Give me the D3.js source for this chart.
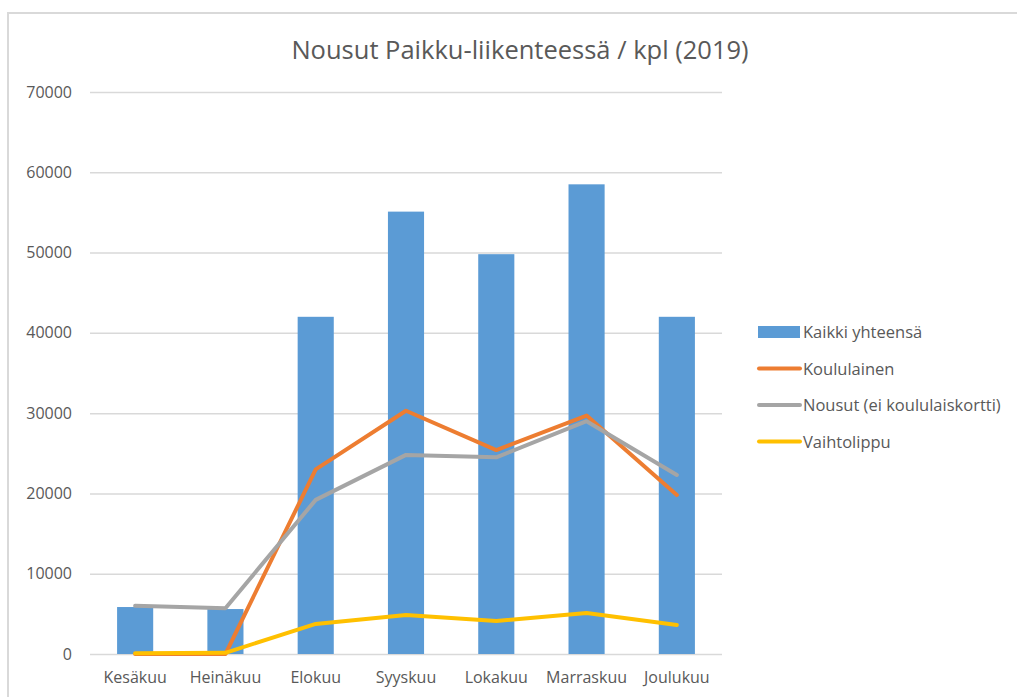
<!DOCTYPE html>
<html>
<head>
<meta charset="utf-8">
<script src="https://cdn.jsdelivr.net/npm/d3@7"></script>
<style>
  body { margin: 0; background: #fff; }
  svg { display: block; font-family: "Open Sans", "Noto Sans", sans-serif; }
</style>
</head>
<body>
<svg id="chart" width="1017" height="697"></svg>
<script>
// data
var months = ["Kesäkuu", "Heinäkuu", "Elokuu", "Syyskuu", "Lokakuu", "Marraskuu", "Joulukuu"];
var kaikki = [5850, 5600, 42000, 55100, 49800, 58500, 42000];
var koululainen = [0, 0, 23000, 30300, 25400, 29700, 19800];
var nousut = [6000, 5700, 19200, 24800, 24500, 29000, 22300];
var vaihtolippu = [100, 150, 3750, 4850, 4100, 5100, 3600];
var yTicks = [0, 10000, 20000, 30000, 40000, 50000, 60000, 70000];

var lineSeries = [
  { name: "Koululainen", values: koululainen, color: "#ed7d31" },
  { name: "Nousut (ei koululaiskortti)", values: nousut, color: "#a5a5a5" },
  { name: "Vaihtolippu", values: vaihtolippu, color: "#ffc000" }
];

var svg = d3.select("#chart");
var plotLeft = 90, plotRight = 722, plotTop = 92, plotBottom = 654;

// frame of the chart box
svg.append("rect")
   .attr("x", 8).attr("y", 13)
   .attr("width", 1020).attr("height", 700)
   .attr("fill", "#fff")
   .attr("stroke", "#d9d9d9")
   .attr("stroke-width", 2);

var x = d3.scaleBand().domain(months).range([plotLeft, plotRight]).paddingInner(0.6).paddingOuter(0.3);
var y = d3.scaleLinear().domain([0, 70000]).range([plotBottom, plotTop]);

// title
svg.append("text")
   .attr("x", 520).attr("y", 59)
   .attr("text-anchor", "middle")
   .attr("font-size", 25.5)
   .attr("fill", "#595959")
   .text("Nousut Paikku-liikenteessä / kpl (2019)");

// gridlines + y labels
var yAxis = svg.append("g")
   .attr("transform", "translate(" + plotLeft + ",0)")
   .call(d3.axisLeft(y).tickValues(yTicks).tickSize(-(plotRight - plotLeft)).tickFormat(d3.format("d")).tickPadding(18));
yAxis.select(".domain").remove();
yAxis.selectAll(".tick line").attr("stroke", "#d9d9d9").attr("stroke-width", 1.5);
yAxis.selectAll(".tick text").attr("fill", "#595959").attr("font-size", 16)
     .attr("font-family", "\"Open Sans\", sans-serif");

// x labels
var xAxis = svg.append("g")
   .attr("transform", "translate(0," + plotBottom + ")")
   .call(d3.axisBottom(x).tickSize(0).tickPadding(18));
xAxis.select(".domain").remove();
xAxis.selectAll(".tick text").attr("fill", "#595959").attr("font-size", 16)
     .attr("font-family", "\"Open Sans\", sans-serif");

// bars
svg.selectAll(".bar")
   .data(kaikki)
   .enter()
   .append("rect")
   .attr("class", "bar")
   .attr("x", function(d, i) { return x(months[i]); })
   .attr("y", function(d) { return y(d); })
   .attr("width", x.bandwidth())
   .attr("height", function(d) { return plotBottom - y(d); })
   .attr("fill", "#5b9bd5");

// lines
var line = d3.line()
   .x(function(d, i) { return x(months[i]) + x.bandwidth() / 2; })
   .y(function(d) { return y(d); });

svg.selectAll(".series")
   .data(lineSeries)
   .enter()
   .append("path")
   .attr("class", "series")
   .attr("d", function(s) { return line(s.values); })
   .attr("fill", "none")
   .attr("stroke", function(s) { return s.color; })
   .attr("stroke-width", 4)
   .attr("stroke-linejoin", "round")
   .attr("stroke-linecap", "round");

// legend
var legend = svg.append("g").attr("transform", "translate(758,332)");
legend.append("rect")
   .attr("x", 0).attr("y", -6)
   .attr("width", 42).attr("height", 12)
   .attr("fill", "#5b9bd5");
legend.append("text")
   .attr("x", 45).attr("y", 6)
   .attr("font-size", 16.5).attr("fill", "#595959")
   .text("Kaikki yhteensä");

var items = legend.selectAll(".item")
   .data(lineSeries)
   .enter()
   .append("g")
   .attr("class", "item")
   .attr("transform", function(d, i) { return "translate(0," + (36.5 * (i + 1)) + ")"; });
items.append("line")
   .attr("x1", 1).attr("x2", 42)
   .attr("stroke", function(d) { return d.color; })
   .attr("stroke-width", 4)
   .attr("stroke-linecap", "round");
items.append("text")
   .attr("x", 45).attr("y", 6)
   .attr("font-size", 16.5).attr("fill", "#595959")
   .text(function(d) { return d.name; });
</script>
</body>
</html>
